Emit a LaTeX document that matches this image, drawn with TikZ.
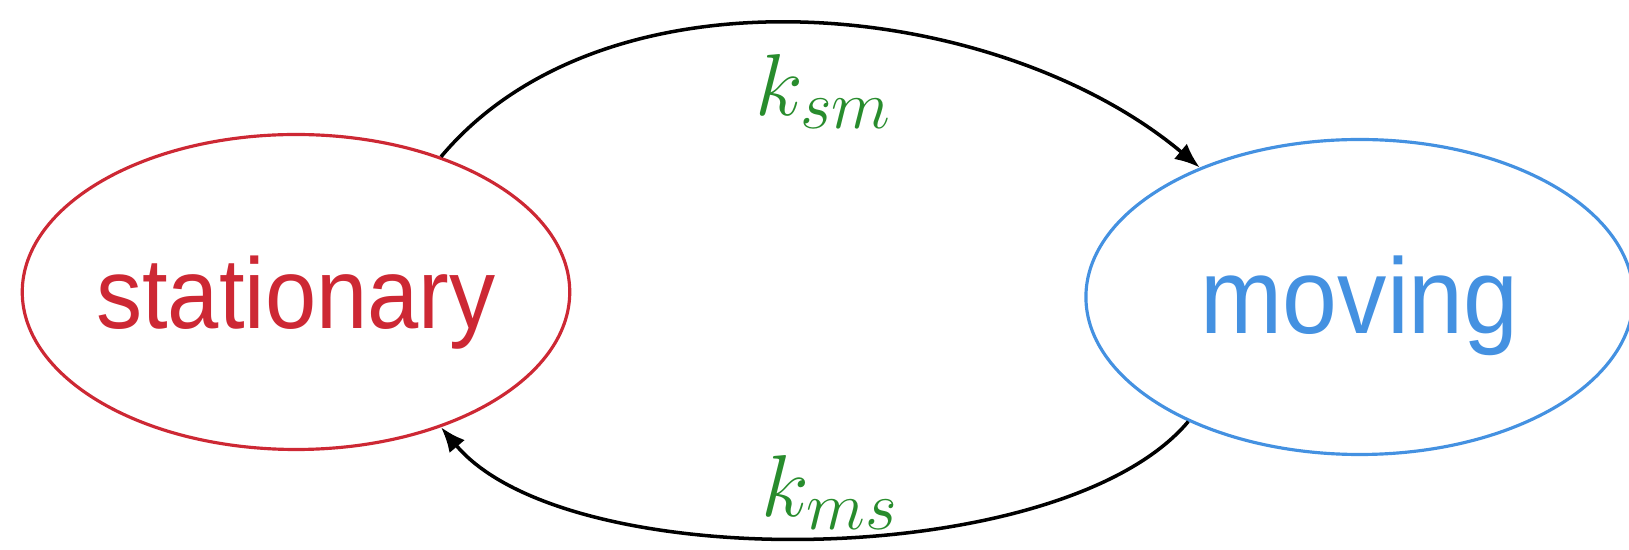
\RequirePackage{fix-cm}
\documentclass[tikz,border=0pt]{standalone}
\usepackage{amsmath}
\usepackage{fontspec}
\usepackage{tikz}
\usetikzlibrary{positioning,shapes,arrows.meta}
\newfontfamily\statefont[FakeStretch=0.92]{Liberation Sans}
\DeclareMathSizes{50}{50}{39}{30}
\definecolor{statred}{RGB}{205,40,52}
\definecolor{statblue}{RGB}{68,145,225}
\definecolor{rategreen}{RGB}{40,140,45}
\tikzstyle{state}=[ellipse, draw, line width=1.8pt, inner xsep=-0.5cm, inner ysep=0pt,
        text height=1.45cm, text depth=0pt,
        minimum width=10.95cm, minimum height=6.3cm]
\tikzstyle{rate}=[text=rategreen, font=\fontsize{50}{60}\selectfont]
\tikzstyle{myarrow}=[-{Latex[length=0.5cm,width=0.4cm]}, line width=2pt]

\begin{document}
\begin{tikzpicture}[node distance=10.26cm]
	\useasboundingbox (0,0) rectangle (32.58,11);

	\node (stat) [state, draw=statred, text=statred,
		font=\statefont\fontsize{57}{60}\selectfont] at (5.92,5.16) {stationary};
	\node (mov) [state, draw=statblue, text=statblue,
		font=\statefont\fontsize{61}{64}\selectfont, right=of stat, yshift=-0.1cm] {moving};

\draw[myarrow] (stat.43) to[out=50, in=140, looseness=0.88]
	node (ksm) [rate, midway, below=0.45cm, xshift=0.3cm] {$k_{sm}$} (mov.141);
\draw[myarrow] (mov.216) to[out=-130, in=-50, looseness=0.67]
	node (kms) [rate, midway, above=0.0cm, xshift=0.3cm] {$k_{ms}$} (stat.317);

\end{tikzpicture}
\end{document}
